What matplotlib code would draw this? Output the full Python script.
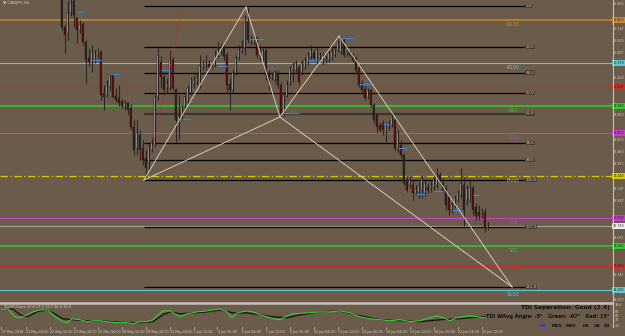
import matplotlib.pyplot as plt

BG = '#6b5b4b'

# CADJPY H4 candles, starting at bar 20 (earlier bars are above the visible range)
first_bar = 20
opens = [86.05, 85.73, 85.67, 85.87, 85.99, 85.82, 85.70, 85.76, 85.58, 85.42,
         85.37, 85.40, 85.45, 85.48, 85.07, 85.05, 85.13, 85.25, 85.04, 85.02,
         84.99, 84.93, 84.97, 84.92, 84.73, 84.52, 84.65, 84.52, 84.42, 84.38,
         84.50, 84.55, 85.03, 85.38, 85.23, 85.12, 85.12, 85.40, 85.10, 84.80,
         84.83, 84.93, 84.98, 85.07, 85.16, 85.18, 85.15, 85.33, 85.34, 85.36,
         85.34, 85.35, 85.44, 85.48, 85.52, 85.45, 85.16, 85.10, 85.27, 85.42,
         85.49, 85.52, 85.78, 85.58, 85.57, 85.62, 85.45, 85.40, 85.49, 85.26,
         85.23, 85.20, 85.27, 85.15, 84.87, 85.04, 85.16, 85.30, 85.30, 85.32,
         85.27, 85.33, 85.37, 85.43, 85.47, 85.38, 85.42, 85.37, 85.40, 85.40,
         85.42, 85.45, 85.50, 85.48, 85.60, 85.46, 85.48, 85.45, 85.42, 85.32,
         85.17, 85.11, 85.03, 85.10, 84.95, 84.85, 84.75, 84.77, 84.68, 84.73,
         84.75, 84.80, 84.52, 84.55, 84.45, 84.18, 84.15, 84.15, 84.07, 84.08,
         84.10, 84.07, 84.13, 84.12, 84.13, 84.15, 84.25, 84.17, 84.12, 84.03,
         83.90, 83.95, 84.00, 84.05, 84.15, 84.00, 84.00, 84.12, 83.93, 83.88,
         83.87, 83.88, 83.72]
highs = [86.10, 85.75, 86.00, 86.02, 86.03, 85.83, 85.80, 85.78, 85.60, 85.52,
         85.55, 85.50, 85.52, 85.50, 85.15, 85.20, 85.26, 85.27, 85.12, 85.15,
         85.01, 85.00, 84.98, 84.96, 84.80, 84.80, 84.70, 84.60, 84.50, 84.57,
         84.62, 85.05, 85.52, 85.44, 85.26, 85.22, 85.50, 85.43, 85.12, 85.05,
         84.95, 85.05, 85.15, 85.23, 85.25, 85.28, 85.45, 85.40, 85.45, 85.40,
         85.38, 85.50, 85.58, 85.56, 85.55, 85.48, 85.22, 85.30, 85.45, 85.55,
         85.60, 85.85, 85.93, 85.65, 85.64, 85.64, 85.55, 85.52, 85.52, 85.30,
         85.28, 85.30, 85.30, 85.18, 85.08, 85.20, 85.34, 85.38, 85.40, 85.35,
         85.40, 85.43, 85.48, 85.55, 85.50, 85.52, 85.48, 85.47, 85.45, 85.50,
         85.55, 85.52, 85.60, 85.64, 85.62, 85.50, 85.50, 85.47, 85.44, 85.34,
         85.20, 85.14, 85.12, 85.12, 84.97, 84.87, 84.78, 84.80, 84.78, 84.80,
         84.87, 84.82, 84.70, 84.60, 84.47, 84.24, 84.24, 84.20, 84.15, 84.18,
         84.25, 84.20, 84.17, 84.20, 84.24, 84.32, 84.28, 84.22, 84.15, 84.07,
         84.00, 84.05, 84.10, 84.32, 84.23, 84.15, 84.20, 84.15, 83.97, 83.95,
         83.92, 83.92, 83.78]
lows = [85.70, 85.47, 85.60, 85.84, 85.73, 85.57, 85.67, 85.55, 85.17, 85.34,
        85.28, 85.37, 85.42, 85.00, 84.90, 85.03, 85.10, 85.02, 84.98, 84.94,
        84.92, 84.90, 84.85, 84.70, 84.45, 84.45, 84.40, 84.35, 84.20, 84.30,
        84.48, 84.53, 85.00, 85.12, 85.05, 85.08, 85.10, 85.10, 84.58, 84.60,
        84.80, 84.90, 84.96, 85.05, 85.12, 85.15, 85.12, 85.30, 85.30, 85.30,
        85.32, 85.33, 85.42, 85.45, 85.40, 85.08, 84.90, 85.07, 85.25, 85.40,
        85.47, 85.45, 85.57, 85.55, 85.55, 85.42, 85.40, 85.38, 85.20, 85.10,
        85.20, 85.18, 85.12, 84.83, 84.84, 85.03, 85.15, 85.18, 85.28, 85.15,
        85.25, 85.31, 85.35, 85.40, 85.40, 85.36, 85.40, 85.35, 85.37, 85.38,
        85.40, 85.43, 85.48, 85.46, 85.43, 85.44, 85.43, 85.38, 85.28, 85.13,
        85.08, 85.00, 85.01, 84.93, 84.77, 84.67, 84.68, 84.65, 84.58, 84.70,
        84.73, 84.50, 84.48, 84.42, 84.15, 84.08, 84.12, 84.00, 84.05, 84.02,
        84.02, 84.04, 84.07, 84.08, 84.10, 84.12, 84.15, 84.08, 83.90, 83.85,
        83.87, 83.92, 83.98, 84.02, 83.74, 83.95, 83.98, 83.85, 83.80, 83.80,
        83.82, 83.68, 83.70]
closes = [85.73, 85.65, 85.87, 85.97, 85.85, 85.70, 85.75, 85.58, 85.40, 85.38,
          85.48, 85.47, 85.49, 85.05, 85.03, 85.14, 85.25, 85.03, 85.00, 84.97,
          84.94, 84.97, 84.90, 84.73, 84.50, 84.67, 84.50, 84.40, 84.32, 84.53,
          84.57, 85.03, 85.45, 85.23, 85.10, 85.17, 85.40, 85.12, 84.80, 84.84,
          84.93, 85.03, 85.12, 85.21, 85.20, 85.22, 85.34, 85.36, 85.36, 85.33,
          85.35, 85.45, 85.50, 85.51, 85.44, 85.15, 85.10, 85.27, 85.42, 85.50,
          85.52, 85.78, 85.60, 85.62, 85.62, 85.45, 85.49, 85.50, 85.25, 85.17,
          85.25, 85.28, 85.15, 84.87, 85.05, 85.16, 85.32, 85.35, 85.37, 85.18,
          85.37, 85.40, 85.45, 85.50, 85.42, 85.50, 85.45, 85.45, 85.42, 85.47,
          85.48, 85.50, 85.58, 85.60, 85.45, 85.48, 85.45, 85.40, 85.30, 85.15,
          85.10, 85.02, 85.10, 84.95, 84.80, 84.73, 84.70, 84.70, 84.75, 84.76,
          84.82, 84.52, 84.67, 84.45, 84.17, 84.10, 84.20, 84.07, 84.10, 84.14,
          84.20, 84.17, 84.10, 84.15, 84.20, 84.25, 84.18, 84.10, 83.95, 83.90,
          83.95, 84.02, 84.07, 84.17, 83.90, 84.12, 84.12, 83.90, 83.84, 83.84,
          83.89, 83.72, 83.74]

# short blue markers: start bar, end bar, price
mark_start = [25, 30, 36, 53, 60, 72, 83, 93, 102, 113, 119, 127, 132, 138, 144, 150, 157]
mark_end = [27, 33, 39, 56, 63, 75, 87, 99, 105, 117, 123, 129, 135, 141, 147, 153, 159]
mark_price = [85.88, 85.40, 85.26, 85.30, 84.81, 85.34, 85.61, 84.87, 85.40, 85.62,
              85.16, 84.76, 84.52, 84.06, 84.09, 83.90, 84.05]

# pivot levels
level_names = ['R138', 'R100', 'R78', 'R61', 'R38', 'Pivot', 'S38', 'S61', 'S78', 'S100']
level_prices = [85.80, 85.37, 85.13, 84.94, 84.67, 84.24, 83.82, 83.54, 83.34, 83.10]
level_colors = ['#c8882c', '#5ec8d0', '#c4302a', '#2ccc2c', '#c83cc8', '#d8c800',
                '#c83cc8', '#2ccc2c', '#c4302a', '#5ec8d0']
bid_price = 83.74

# fibonacci retracement
fib_labels = ['0.0', '23.6', '38.2', '50.0', '61.8', '78.6', '88.6', '100.0', '127.2', '161.8']
fib_prices = [85.94, 85.53, 85.275, 85.07, 84.865, 84.57, 84.40, 84.20, 83.73, 83.13]
fib_from, fib_to = 47.5, 175.2

# XABCD points
pat_x = [47.5, 81.5, 92.8, 112.5, 170.2]
pat_y = [84.20, 85.93, 84.83, 85.64, 83.13]
trend_x = [49.5, 60.5]
trend_y = [84.40, 85.93]

# TDI panel
tdi_green_x = [-0.5, 2.2, 4.5, 6.2, 8.5, 10.5, 12.8, 15.5, 17.8, 20.5, 21.8, 23.5, 26.2,
               28.5, 30.5, 32.8, 35.2, 38.5, 41.8, 43.8, 46.2, 48.5, 50.5, 52.2, 53.8,
               56.2, 57.8, 59.5, 61.8, 65.2, 68.5, 70.5, 72.8, 75.2, 76.8, 78.5, 81.8,
               83.8, 86.2, 88.5, 90.5, 92.8, 95.2, 97.2, 101.8, 106.2, 109.5, 112.8,
               116.2, 119.5, 122.8, 126.2, 129.5, 132.8, 136.2, 139.5, 142.8, 145.2,
               147.2, 149.5, 151.8, 153.8, 156.2, 158.5, 161.2]
tdi_green = [77, 81.5, 45.5, 41, 54.5, 68, 77, 77, 45.5, 23, 18.5, 36.5, 32, 23, 27.5,
             27.5, 23, 18.5, 18.5, 14, 23, 23, 32, 54.5, 72.5, 72.5, 59, 45.5, 59, 68,
             72.5, 77, 81.5, 68, 41, 63.5, 72.5, 68, 54.5, 45.5, 36.5, 32, 50, 59, 63.5,
             68, 68, 72.5, 63.5, 45.5, 36.5, 32, 27.5, 32, 23, 27.5, 41, 50, 41, 27.5,
             41, 45.5, 50, 45.5, 41]
tdi_black_x = [-0.5, 3.8, 6.2, 8.5, 11.8, 15.2, 17.2, 20.5, 23.8, 28.5, 32.8, 37.2, 41.8,
               46.2, 50.5, 53.8, 56.2, 59.5, 63.8, 68.5, 72.8, 77.2, 81.8, 86.2, 90.5,
               95.2, 99.5, 103.8, 106.2, 112.8, 119.5, 126.2, 132.8, 139.5, 146.2,
               152.8, 159.5, 161.2]
tdi_black = [77, 81.5, 54.5, 45.5, 68, 77, 63.5, 36.5, 32, 27.5, 27.5, 23, 18.5, 18.5,
             23, 54.5, 68, 59, 63.5, 68, 77, 63.5, 63.5, 54.5, 45.5, 41, 54.5, 63.5, 68,
             72.5, 50, 32, 27.5, 23, 32, 36.5, 45.5, 45.5]

price_ticks = [85.960, 85.837, 85.713, 85.590, 85.467, 85.343, 85.220, 85.097, 84.973,
               84.850, 84.727, 84.603, 84.480, 84.357, 84.233, 84.110, 83.987, 83.863,
               83.740, 83.617, 83.493, 83.370, 83.247, 83.123, 83.000]
tdi_ticks = [99.6, 68, 50, 32, 3.2]
time_labels = ['17 May 2018', '21 May 04:00', '22 May 12:00', '23 May 20:00', '25 May 04:00',
               '28 May 12:00', '29 May 20:00', '31 May 04:00', '1 Jun 12:00', '4 Jun 20:00',
               '6 Jun 04:00', '7 Jun 12:00', '8 Jun 20:00', '12 Jun 04:00', '13 Jun 12:00',
               '14 Jun 20:00', '18 Jun 04:00', '19 Jun 12:00', '20 Jun 20:00', '22 Jun 04:00',
               '25 Jun 12:00']

W, H = 625, 336
fig = plt.figure(figsize=(W / 100, H / 100), dpi=100, facecolor=BG)
ax = fig.add_axes([0, (H - 302) / H, 612 / W, 302 / H], facecolor=BG)
ax.set_xlim(-0.5, 203.5)
ax.set_ylim(82.98, 86.00)
for s in ax.spines.values():
    s.set_visible(False)
ax.set_xticks([])
ax.set_yticks([])

# full-width level lines
for name, p, c in zip(level_names, level_prices, level_colors):
    if name == 'Pivot':
        ax.axhline(p, color=c, lw=0.9, ls=(0, (6, 2, 1, 2)), zorder=1)
    else:
        ax.axhline(p, color=c, lw=1.1 if name in ('R61', 'S61', 'R138') else 0.8, zorder=1)
    ax.text(170.5, p - 0.02, name, color=c, fontsize=3.6, ha='center', va='top', zorder=6)
ax.axhline(bid_price, color='#a8a090', lw=0.8, zorder=1)

# fibonacci lines
for lab, p in zip(fib_labels, fib_prices):
    lc, lw = ('#3e352c', 1.6) if lab == '61.8' else ('#000000', 0.9)
    ax.hlines(p, fib_from, fib_to, color=lc, lw=lw, zorder=2)
    ax.text(fib_to - 0.5, p, lab, color='#c0b8a8', fontsize=2.8, ha='left', va='center',
            zorder=6, bbox=dict(boxstyle='square,pad=0.1', fc='#4a4038', ec='none'))

# candles
xs = list(range(first_bar, first_bar + len(opens)))
ax.vlines(xs, lows, highs, color='#2a2622', lw=0.8, zorder=3)
for x, o, c in zip(xs, opens, closes):
    bull = c >= o
    ax.bar(x, max(abs(c - o), 0.008), bottom=min(o, c), width=0.66,
           color='#e2e2e2' if bull else '#7c0a0a', edgecolor='#151515', lw=0.3, zorder=4)

for a, b, p in zip(mark_start, mark_end, mark_price):
    ax.hlines(p, a, b, color='#3c82d6', lw=0.9, zorder=5)

# XABCD pattern and trendline
seg = [(0, 1), (1, 2), (2, 0), (2, 3), (3, 4), (4, 2)]
for i, j in seg:
    ax.plot([pat_x[i], pat_x[j]], [pat_y[i], pat_y[j]], color='#d6c9b6', lw=0.7, zorder=5)
ax.plot(trend_x, trend_y, color='#d02020', lw=0.7, ls=(0, (1, 1.5)), zorder=5)

ax.text(0.5, 85.99, '\u25bc CADJPY,H4', color='#d0d0d0', fontsize=3.0, va='top', ha='left')

# right price scale
yt = ax.get_yaxis_transform()
boxed = level_prices + [bid_price]
for p in price_ticks:
    if min(abs(p - q) for q in boxed) < 0.06:
        continue
    ax.text(1.002, p, f'{p:.3f}', transform=yt, color='#d8d0c8', fontsize=2.3,
            va='center', ha='left', clip_on=False)
for p, c in zip(level_prices + [bid_price], level_colors + ['#f0f0f0']):
    ax.text(1.001, p, f'{p:.3f}', transform=yt, color='#202020', fontsize=2.3,
            va='center', ha='left', clip_on=False, zorder=8,
            bbox=dict(boxstyle='square,pad=0.3', fc=c, ec='none'))

# separator and axis line
fig.add_artist(plt.Line2D([0, 612 / W], [1 - 302.5 / H] * 2, color='#c8c0b6', lw=1.8))
fig.add_artist(plt.Line2D([612.5 / W] * 2, [1 - 327 / H, 1], color='#c8c0b6', lw=0.8))

# TDI panel
ax2 = fig.add_axes([0, (H - 327) / H, 612 / W, 23 / H], facecolor=BG)
ax2.set_xlim(-0.5, 203.5)
ax2.set_ylim(-1.4, 104.2)
for s in ax2.spines.values():
    s.set_visible(False)
ax2.set_xticks([])
ax2.set_yticks([])
ax2.plot(tdi_black_x, tdi_black, color='#101010', lw=0.9)
ax2.plot(tdi_green_x, tdi_green, color='#32d232', lw=0.8)
ax2.text(0.5, 100, 'TDI-RT-Clone 47.6 17.0 12.7 36.9 35.6', color='#d8d0c8', fontsize=2.6,
         va='top', ha='left')
yt2 = ax2.get_yaxis_transform()
for v in tdi_ticks:
    ax2.text(1.004, v, f'{v:g}', transform=yt2, color='#d8d0c8', fontsize=2.3,
             va='center', ha='left', clip_on=False)

fig.text(610 / W, 1 - 308 / H, 'TDI Separation: Good (2.4)', color='#101010', fontsize=4.2,
         fontweight='bold', ha='right', va='center')
fig.text(610 / W, 1 - 316.5 / H, 'TDI WAvg Angle: -5\u00b0   Green: -67\u00b0   Red: 15\u00b0',
         color='#101010', fontsize=3.6, fontweight='bold', ha='right', va='center')
tf_names = ['M5', 'M15', 'M30', 'H1', 'H4', 'D1']
tf_x = [543, 557, 571, 586, 597, 607]
for n, x in zip(tf_names, tf_x):
    fig.text(x / W, 1 - 326 / H, n, color='#1e3cff' if n == 'M5' else '#101010',
             fontsize=3.2, fontweight='bold', ha='center', va='center')

# time axis labels every 8 bars
for k, lab in enumerate(time_labels):
    xb = k * 8
    xpx = (xb + 0.5) * 3
    fig.text((xpx + 0.5) / W, 1 - 331.5 / H, lab, color='#d8d0c8', fontsize=2.3,
             ha='left', va='center')
    fig.add_artist(plt.Line2D([xpx / W] * 2, [1 - 327 / H, 1 - 329 / H], color='#c8c0b6', lw=0.5))

fig.savefig('out.png', dpi=100, facecolor=BG)
